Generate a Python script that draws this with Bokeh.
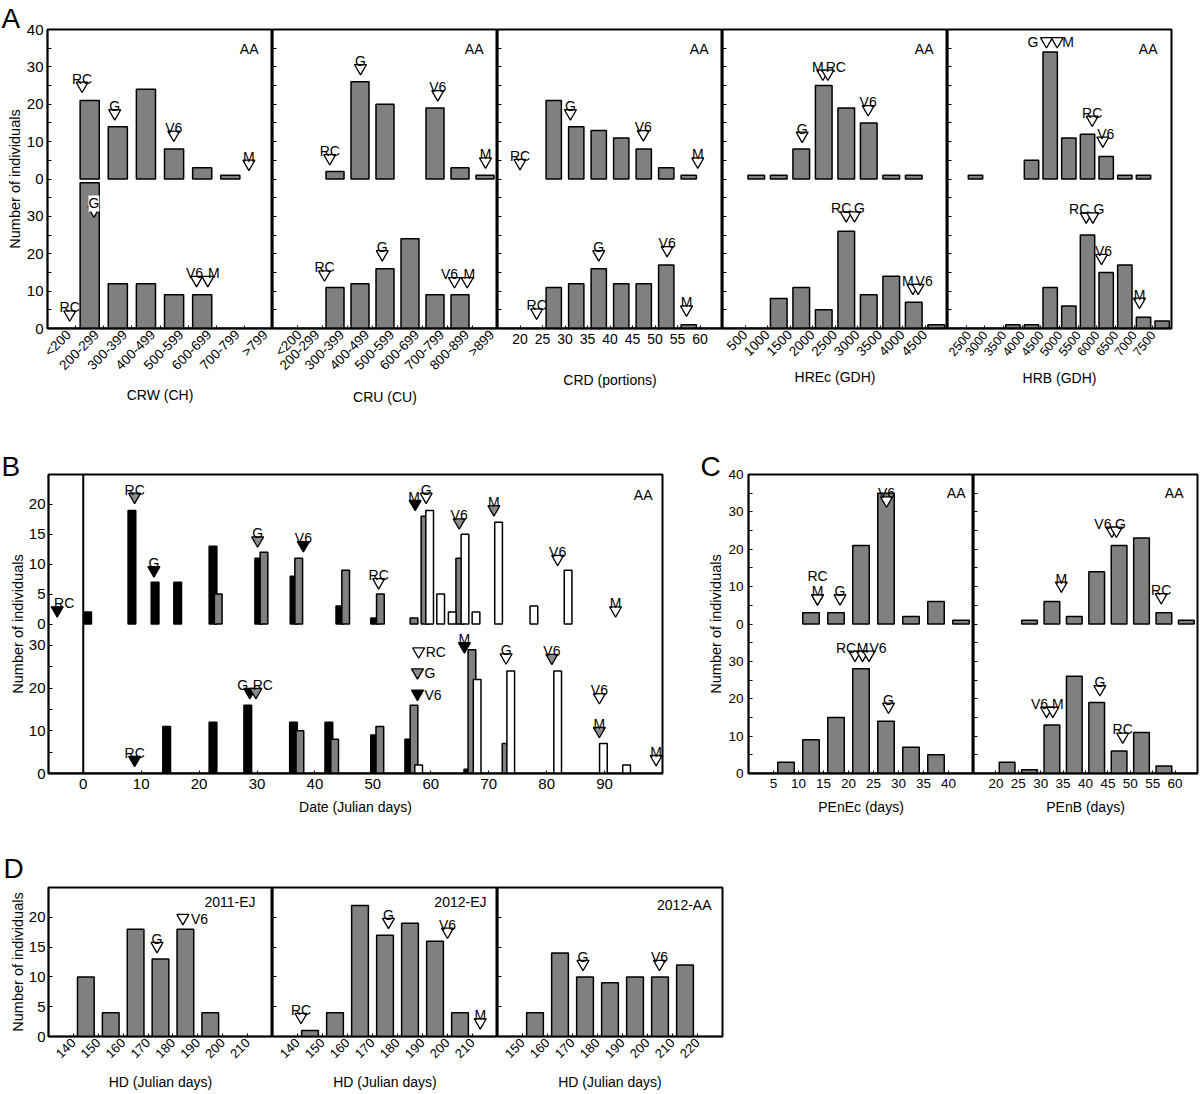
import math
from bokeh.plotting import figure
from bokeh.layouts import row, column
from bokeh.models import Range1d, FixedTicker, ColumnDataSource, Span, Title
from bokeh.core.properties import value
from bokeh.embed import file_html
from bokeh.resources import INLINE

FONT = "Liberation Sans"
BAR_GRAY = "#808080"
MK_FILL = {"k": "#000000", "g": "#8c8c8c", "w": "#ffffff"}

# ======================= DATA =======================
# ---- Panel A (AA = upper row, EJ = lower row) ----
crw_cats = ["<200", "200-299", "300-399", "400-499", "500-599", "600-699", "700-799", ">799"]
crw_aa = [0, 21, 14, 24, 8, 3, 1, 0]
crw_ej = [0, 39, 12, 12, 9, 9, 0, 0]

cru_cats = ["<200", "200-299", "300-399", "400-499", "500-599", "600-699", "700-799", "800-899", ">899"]
cru_aa = [0, 0, 2, 26, 20, 0, 19, 3, 1]
cru_ej = [0, 0, 11, 12, 16, 24, 9, 9, 0]

crd_bins = [22.5, 27.5, 32.5, 37.5, 42.5, 47.5, 52.5, 57.5]
crd_aa = [0, 21, 14, 13, 11, 8, 3, 1]
crd_ej = [0, 11, 12, 16, 12, 12, 17, 1]
crd_ticks = [20, 25, 30, 35, 40, 45, 50, 55, 60]

hrec_bins = [750, 1250, 1750, 2250, 2750, 3250, 3750, 4250, 4750]
hrec_aa = [1, 1, 8, 25, 19, 15, 1, 1, 0]
hrec_ej = [0, 8, 11, 5, 26, 9, 14, 7, 1]
hrec_ticks = [500, 1000, 1500, 2000, 2500, 3000, 3500, 4000, 4500]

hrb_bins = [2750, 3250, 3750, 4250, 4750, 5250, 5750, 6250, 6750, 7250, 7750]
hrb_aa = [1, 0, 0, 5, 34, 11, 12, 6, 1, 1, 0]
hrb_ej = [0, 0, 1, 1, 11, 6, 25, 15, 17, 3, 2]
hrb_ticks = [2500, 3000, 3500, 4000, 4500, 5000, 5500, 6000, 6500, 7000, 7500]

# stage markers (label, x, y)
crw_aa_mk = [("RC", 0.73, 25.0), ("G", 1.89, 17.6), ("V6", 3.99, 11.9), ("M", 6.66, 4.1)]
crw_ej_mk = [("RC", 0.29, 3.8), ("G", 1.15, 31.6), ("V6", 4.80, 13.0), ("M", 5.20, 13.0)]
cru_aa_mk = [("RC", 1.79, 5.6), ("G", 3.02, 29.7), ("V6", 6.11, 22.7), ("M", 8.02, 4.7)]
cru_ej_mk = [("RC", 1.58, 14.5), ("G", 3.89, 19.9), ("V6", 6.78, 12.7), ("M", 7.29, 12.7)]
crd_aa_mk = [("RC", 20.0, 4.3), ("G", 31.2, 17.6), ("V6", 47.4, 12.0), ("M", 59.5, 4.7)]
crd_ej_mk = [("RC", 23.7, 4.3), ("G", 37.5, 19.9), ("V6", 52.7, 21.0), ("M", 57.0, 5.1)]
hrec_aa_mk = [("G", 1770, 11.6), ("M", 2230, 28.2), ("RC", 2341, 28.2), ("V6", 3237, 18.7)]
hrec_ej_mk = [("RC", 2748, 30.3), ("G", 2933, 30.3), ("M", 4230, 10.9), ("V6", 4348, 10.9)]
hrb_aa_mk = [("G", 4652, 36.9), ("M", 4939, 36.9), ("RC", 5876, 15.9), ("V6", 6161, 10.3)]
hrb_ej_mk = [("RC", 5715, 30.0), ("G", 5893, 30.0), ("V6", 6125, 18.9), ("M", 7143, 7.2)]

# ---- Panel B (date histograms; k = black, g = gray, w = white series) ----
b_aa_k_x = [0.75, 8.4, 12.4, 16.3, 22.4, 30.3, 36.4, 44.3, 50.3]
b_aa_k_v = [2, 19, 7, 7, 13, 11, 8, 3, 1]
b_aa_g_x = [23.3, 31.2, 37.2, 45.3, 51.3, 57.1, 59.0, 65.0]
b_aa_g_v = [5, 12, 11, 9, 5, 1, 18, 11]
b_aa_w_x = [59.8, 61.7, 63.7, 65.9, 67.8, 71.7, 77.8, 83.7]
b_aa_w_v = [19, 5, 2, 15, 2, 17, 3, 9]
b_ej_k_x = [14.4, 22.4, 28.4, 36.3, 42.4, 50.3, 56.2, 66.4]
b_ej_k_v = [11, 12, 16, 12, 12, 9, 8, 1]
b_ej_g_x = [37.4, 43.4, 51.2, 57.1, 67.1, 73.0]
b_ej_g_v = [10, 8, 11, 16, 29, 7]
b_ej_w_x = [57.9, 68.0, 73.8, 81.9, 89.8, 93.8]
b_ej_w_v = [2, 22, 24, 24, 7, 2]
b_ticks = [0, 10, 20, 30, 40, 50, 60, 70, 80, 90]

b_aa_mk = [("RC", -4.5, 2.3, "k"), ("RC", 8.87, 21.3, "g"), ("G", 12.2, 9.0, "k"),
           ("G", 30.1, 14.0, "g"), ("V6", 38.0, 13.2, "k"), ("RC", 51.0, 7.0, "w"),
           ("M", 57.3, 20.1, "k"), ("G", 59.2, 21.3, "w"), ("V6", 64.9, 17.0, "g"),
           ("M", 70.9, 19.2, "g"), ("V6", 81.9, 10.9, "w"), ("M", 91.9, 2.3, "w")]
b_ej_mk = [("RC", 8.87, 3.2, "k"), ("G", 28.75, 19.1, "k"), ("RC", 29.8, 19.1, "g"),
           ("RC", 57.9, 28.6, "w"), ("G", 57.7, 23.7, "g"), ("V6", 57.7, 18.7, "k"),
           ("M", 65.8, 29.8, "k"), ("G", 73.0, 27.2, "w"), ("V6", 80.9, 27.1, "g"),
           ("V6", 89.1, 17.9, "w"), ("M", 89.1, 10.0, "g"), ("M", 98.9, 3.4, "w")]

# ---- Panel C ----
penec_bins = [7.5, 12.5, 17.5, 22.5, 27.5, 32.5, 37.5, 42.5]
penec_aa = [0, 3, 3, 21, 35, 2, 6, 1]
penec_ej = [3, 9, 15, 28, 14, 7, 5, 0]
penec_ticks = [5, 10, 15, 20, 25, 30, 35, 40]
penb_bins = [22.5, 27.5, 32.5, 37.5, 42.5, 47.5, 52.5, 57.5, 62.5]
penb_aa = [0, 1, 6, 2, 14, 21, 23, 3, 1]
penb_ej = [3, 1, 13, 26, 19, 6, 11, 2, 0]
penb_ticks = [20, 25, 30, 35, 40, 45, 50, 55, 60]

penec_aa_mk = [("M", 13.8, 6.9), ("RC", 13.8, 6.9), ("G", 18.3, 6.9), ("V6", 27.6, 33.1)]
penec_ej_mk = [("RC", 21.3, 31.8), ("M", 22.8, 31.8), ("V6", 24.1, 31.8), ("G", 28.0, 17.9)]
penb_aa_mk = [("M", 34.6, 10.3), ("V6", 45.9, 25.0), ("G", 46.9, 25.0), ("RC", 56.9, 7.2)]
penb_ej_mk = [("V6", 31.3, 16.8), ("M", 32.7, 16.8), ("G", 43.2, 22.6), ("RC", 48.3, 9.9)]

# ---- Panel D (HD, Julian days) ----
hd_bins_ej = [145, 155, 165, 175, 185, 195, 205, 215]
hd11_ej = [10, 4, 18, 13, 18, 4, 0, 0]
hd12_ej = [1, 4, 22, 17, 19, 16, 4, 0]
hd_bins_aa = [155, 165, 175, 185, 195, 205, 215]
hd12_aa = [4, 14, 10, 9, 10, 10, 12]
hd_ticks_ej = [140, 150, 160, 170, 180, 190, 200, 210]
hd_ticks_aa = [150, 160, 170, 180, 190, 200, 210, 220]

hd11_mk = [("G", 173.6, 15.2), ("V6", 184.0, 19.9)]
hd12ej_mk = [("RC", 141.4, 3.3), ("G", 176.4, 19.25), ("V6", 200.0, 17.6), ("M", 213.1, 2.4)]
hd12aa_mk = [("G", 174.2, 12.2), ("V6", 204.8, 12.2)]

# ================= label placement (style only) =================
# (mode, dx, dy): a = above, b = above with white box, l = left, r = right
ST = {
    "crw_ej": [None, ("b", 0, 0), ("a", -2, 0), ("a", 6, 0)],
    "cru_ej": [None, None, ("a", -5, 0), ("a", 2, 0)],
    "hrec_aa": [None, ("a", -5, 0), ("a", 8, 0), None],
    "hrec_ej": [("a", -5, 0), ("a", 5, 0), ("a", -5, 0), ("a", 6, 0)],
    "hrb_aa": [("l", -1, 0), ("r", -2, 0), None, ("a", 3, 0)],
    "hrb_ej": [("a", -7, 0), ("a", 6, 0), ("a", 2, 0), None],
    "b_aa": [("a", 7, 0), None, None, None, None, None, ("a", -1, 0), None, None, None, None, None],
    "b_ej": [None, ("a", -7, 0), ("a", 7, 0), ("r", 0, 0), ("r", 0, 0), ("r", 0, 0),
             None, None, None, None, None, None],
    "penec_aa": [None, ("a", 0, -15), None, None],
    "penec_ej": [("a", -9, 0), None, ("a", 9, 0), None],
    "penb_aa": [None, ("a", -9, 0), ("a", 4, 0), None],
    "penb_ej": [("a", -7, 0), ("a", 5, 0), None, None],
    "hd11": [None, ("r", 1, 0)],
}
YT = "Number of individuals"


# ======================= HELPERS =======================
def new_fig(w, h, bl, br, bt, bb, xr, yr, aa=None):
    p = figure(width=w, height=h, x_range=Range1d(*xr), y_range=Range1d(*yr),
               output_backend="svg", toolbar_location=None,
               x_axis_location="below", y_axis_location="left",
               min_border_left=bl, min_border_right=br,
               min_border_top=bt, min_border_bottom=bb)
    if aa is not None:
        p.extra_y_ranges = {"aa": Range1d(*aa)}
    p.outline_line_color = "black"
    p.outline_line_width = 2
    p.grid.visible = False
    p.background_fill_color = "white"
    p.border_fill_color = "white"
    return p


def to_main(p, v):
    """map a value of the upper-row ('aa') range onto the main y range"""
    a, m = p.extra_y_ranges["aa"], p.y_range
    return m.start + (v - a.start) * (m.end - m.start) / (a.end - a.start)


def style_y(p, ej_ticks, ej_minor, aa_ticks, aa_minor, show, size="15px", standoff=3,
            title=None, tstandoff=0):
    ticks = list(ej_ticks)
    labels = [str(t) for t in ej_ticks]
    minor = list(ej_minor)
    if aa_ticks:
        ticks += [to_main(p, t) for t in aa_ticks]
        labels += [str(t) for t in aa_ticks]
        minor += [to_main(p, t) for t in aa_minor]
    ax = p.yaxis[0]
    ax.ticker = FixedTicker(ticks=ticks, minor_ticks=minor)
    ax.major_tick_in = 4
    ax.major_tick_out = 0
    ax.minor_tick_in = 4
    ax.minor_tick_out = 0
    ax.axis_line_width = 1.5
    ax.major_label_text_font = FONT
    ax.major_label_text_color = "black"
    ax.major_label_text_font_size = size
    if show:
        ax.major_label_overrides = {t: l for t, l in zip(ticks, labels)}
        ax.major_label_standoff = standoff
    else:
        ax.major_label_overrides = {t: "" for t in ticks}
        ax.major_label_standoff = 0
    if title:
        ax.axis_label = title
        ax.axis_label_text_font = FONT
        ax.axis_label_text_font_style = "normal"
        ax.axis_label_text_font_size = "14.5px"
        ax.axis_label_text_color = "black"
        ax.axis_label_standoff = tstandoff


def style_x(p, ticks, minor, labels, angle, size, standoff, title, tstandoff,
            major_in=3, minor_in=0):
    ax = p.xaxis[0]
    ax.ticker = FixedTicker(ticks=ticks, minor_ticks=minor)
    ax.major_tick_in = major_in
    ax.major_tick_out = 0
    ax.minor_tick_in = minor_in
    ax.minor_tick_out = 0
    ax.axis_line_width = 1.5
    if labels is not None:
        ax.major_label_overrides = {t: l for t, l in zip(ticks, labels)}
    ax.major_label_orientation = angle if angle else "horizontal"
    ax.major_label_text_font = FONT
    ax.major_label_text_font_size = size
    ax.major_label_text_color = "black"
    ax.major_label_standoff = standoff
    ax.axis_label = title
    ax.axis_label_text_font = FONT
    ax.axis_label_text_font_style = "normal"
    ax.axis_label_text_font_size = "14px"
    ax.axis_label_text_color = "black"
    ax.axis_label_standoff = tstandoff


def add_bars(p, xs, vals, width, fill=BAR_GRAY, rn="default"):
    keep = [(x, v) for x, v in zip(xs, vals) if v > 0]
    src = ColumnDataSource(dict(x=[k[0] for k in keep], top=[k[1] for k in keep]))
    p.vbar(x="x", top="top", bottom=0, width=width, source=src, y_range_name=rn,
           fill_color=fill, line_color="black", line_width=1.5)


def add_marks(p, marks, styles=None, rn="default", size=12):
    xs = [m[1] for m in marks]
    ys = [m[2] for m in marks]
    fills = [MK_FILL[m[3]] if len(m) > 3 else "#ffffff" for m in marks]
    p.scatter(x=xs, y=ys, marker="inverted_triangle", size=size, y_range_name=rn,
              fill_color=fills, line_color="black", line_width=1.3)
    groups = {}
    for i, m in enumerate(marks):
        st = styles[i] if styles is not None and styles[i] is not None else ("a", 0, 0)
        mode, dx, dy = st
        if mode in ("a", "b"):
            ox, oy = dx, -7 + dy
        elif mode == "r":
            ox, oy = 7 + dx, 1 + dy
        else:
            ox, oy = -7 + dx, 1 + dy
        g = groups.setdefault(mode, dict(x=[], y=[], t=[], ox=[], oy=[]))
        g["x"].append(m[1]); g["y"].append(m[2]); g["t"].append(m[0])
        g["ox"].append(ox); g["oy"].append(oy)
    for mode, g in groups.items():
        align = {"a": "center", "b": "center", "r": "left", "l": "right"}[mode]
        base = "alphabetic" if mode in ("a", "b") else "middle"
        kw = dict(background_fill_color="white") if mode == "b" else {}
        p.text(x=g["x"], y=g["y"], text=g["t"], x_offset=g["ox"], y_offset=g["oy"],
               y_range_name=rn, text_font=value(FONT), text_font_size="14px",
               text_align=align, text_baseline=base, text_color="black", **kw)


def add_corner(p, txt, dx, dy, y, rn="default"):
    p.text(x=[p.x_range.end], y=[y], text=[txt], x_offset=dx, y_offset=dy,
           y_range_name=rn, text_font=value(FONT), text_font_size="14px",
           text_align="right", text_baseline="middle", text_color="black")


def add_row_corners(p, dx_aa, dy_aa, dx_ej, dy_ej):
    aa = p.extra_y_ranges["aa"]
    add_corner(p, "AA", dx_aa, dy_aa, aa.end, rn="aa")
    add_corner(p, "EJ", dx_ej, dy_ej, to_main(p, aa.start))


def add_letter(p, txt, offset, standoff):
    p.title = Title(text=txt, align="left", offset=offset, standoff=standoff,
                    text_font=FONT, text_font_size="28px", text_font_style="normal",
                    text_color="black")


def midline(p):
    y = to_main(p, p.extra_y_ranges["aa"].start)
    p.add_layout(Span(location=y, dimension="width", line_color="black", line_width=2))


# ======================= PANEL A =======================
A_cols = [
    dict(xr=(-0.5, len(crw_cats) - 0.5), xs=list(range(len(crw_cats))), aa=crw_aa, ej=crw_ej,
         bw=0.68, ticks=[i + 0.25 for i in range(len(crw_cats))], labels=crw_cats,
         minor=[i - 0.5 for i in range(len(crw_cats) + 1)], angle=math.pi / 4, fs="13.5px",
         title="CRW (CH)", ls=4, ts=6, aam=crw_aa_mk, ejm=crw_ej_mk, aas=None, ejs=ST["crw_ej"],
         cat=True),
    dict(xr=(-0.5, len(cru_cats) - 0.5), xs=list(range(len(cru_cats))), aa=cru_aa, ej=cru_ej,
         bw=0.72, ticks=[i + 0.28 for i in range(len(cru_cats))], labels=cru_cats,
         minor=[i - 0.5 for i in range(len(cru_cats) + 1)], angle=math.pi / 4, fs="13.5px",
         title="CRU (CU)", ls=4, ts=8, aam=cru_aa_mk, ejm=cru_ej_mk, aas=None, ejs=ST["cru_ej"],
         cat=True),
    dict(xr=(15, 65), xs=crd_bins, aa=crd_aa, ej=crd_ej, bw=3.4, ticks=crd_ticks, labels=None,
         minor=[], angle=0, fs="14px", title="CRD (portions)", ls=5, ts=25,
         aam=crd_aa_mk, ejm=crd_ej_mk, aas=None, ejs=None, cat=False),
    dict(xr=(0, 5000), xs=hrec_bins, aa=hrec_aa, ej=hrec_ej, bw=370, ticks=hrec_ticks,
         labels=None, minor=[], angle=math.pi / 4, fs="13.5px", title="HREc (GDH)", ls=4, ts=6,
         aam=hrec_aa_mk, ejm=hrec_ej_mk, aas=ST["hrec_aa"], ejs=ST["hrec_ej"], cat=False),
    dict(xr=(2000, 8000), xs=hrb_bins, aa=hrb_aa, ej=hrb_ej, bw=385, ticks=hrb_ticks,
         labels=None, minor=[], angle=0.9, fs="12.5px", title="HRB (GDH)", ls=4, ts=7,
         aam=hrb_aa_mk, ejm=hrb_ej_mk, aas=ST["hrb_aa"], ejs=ST["hrb_ej"], cat=False),
]
A_fw = [225, 225, 225, 225, 224]
A_bl = [47, 0, 0, 0, 0]
A_br = [0, 0, 0, 0, 2]

A_figs = []
for i, c in enumerate(A_cols):
    w = A_bl[i] + A_fw[i] + A_br[i]
    p = new_fig(w, 452, A_bl[i], A_br[i], 29, 124, c["xr"], (0, 80), aa=(-40, 40))
    style_y(p, [0, 10, 20, 30], [5, 15, 25, 35], [0, 10, 20, 30, 40], [5, 15, 25, 35],
            i == 0, "15px", 4, YT if i == 0 else None, 1)
    if c["cat"]:
        style_x(p, c["ticks"], c["minor"], c["labels"], c["angle"], c["fs"], c["ls"],
                c["title"], c["ts"], major_in=0, minor_in=3)
    else:
        style_x(p, c["ticks"], c["minor"], c["labels"], c["angle"], c["fs"], c["ls"],
                c["title"], c["ts"], major_in=3, minor_in=0)
    midline(p)
    add_bars(p, c["xs"], c["aa"], c["bw"], rn="aa")
    add_bars(p, c["xs"], c["ej"], c["bw"])
    add_marks(p, c["aam"], c["aas"], rn="aa")
    add_marks(p, c["ejm"], c["ejs"])
    add_row_corners(p, -14, 19, -14, 19)
    A_figs.append(p)
add_letter(A_figs[0], "A", -46, -8)
secA = row(*A_figs)

# ======================= PANEL B =======================
B = new_fig(664, 393, 48, 2, 22, 71, (-6, 100), (0, 70), aa=(-25, 25))
style_y(B, [0, 10, 20, 30], [5, 15, 25], [0, 5, 10, 15, 20], [], True, "15px", 3, YT, 0)
style_x(B, b_ticks, [], None, 0, "15px", 5, "Date (Julian days)", 7, major_in=3)
B.add_layout(Span(location=0, dimension="height", line_color="black", line_width=2))
midline(B)
add_bars(B, b_aa_k_x, b_aa_k_v, 1.33, "#000000", rn="aa")
add_bars(B, b_aa_g_x, b_aa_g_v, 1.33, BAR_GRAY, rn="aa")
add_bars(B, b_aa_w_x, b_aa_w_v, 1.33, "#ffffff", rn="aa")
add_bars(B, b_ej_k_x, b_ej_k_v, 1.33, "#000000")
add_bars(B, b_ej_g_x, b_ej_g_v, 1.33, BAR_GRAY)
add_bars(B, b_ej_w_x, b_ej_w_v, 1.33, "#ffffff")
add_marks(B, b_aa_mk, ST["b_aa"], rn="aa")
add_marks(B, b_ej_mk, ST["b_ej"])
add_row_corners(B, -10, 20, -10, 19)
add_letter(B, "B", -47, -14)

# ======================= PANEL C =======================
C1 = new_fig(309, 393, 84, 0, 22, 72, (0, 45), (0, 80), aa=(-40, 40))
style_y(C1, [0, 10, 20, 30], [5, 15, 25, 35], [0, 10, 20, 30, 40], [5, 15, 25, 35],
        True, "13.5px", 5, YT, 1)
style_x(C1, penec_ticks, [], None, 0, "13.5px", 5, "PEnEc (days)", 8, major_in=3)
midline(C1)
add_bars(C1, penec_bins, penec_aa, 3.3, rn="aa")
add_bars(C1, penec_bins, penec_ej, 3.3)
add_marks(C1, penec_aa_mk, ST["penec_aa"], rn="aa")
add_marks(C1, penec_ej_mk, ST["penec_ej"])
add_row_corners(C1, -8, 18, -11, 17)
add_letter(C1, "C", -48, -14)

C2 = new_fig(226, 393, 0, 2, 22, 72, (15, 65), (0, 80), aa=(-40, 40))
style_y(C2, [0, 10, 20, 30], [5, 15, 25, 35], [0, 10, 20, 30, 40], [5, 15, 25, 35], False)
style_x(C2, penb_ticks, [], None, 0, "13.5px", 5, "PEnB (days)", 8, major_in=3)
midline(C2)
add_bars(C2, penb_bins, penb_aa, 3.5, rn="aa")
add_bars(C2, penb_bins, penb_ej, 3.5)
add_marks(C2, penb_aa_mk, ST["penb_aa"], rn="aa")
add_marks(C2, penb_ej_mk, ST["penb_ej"])
add_row_corners(C2, -14, 18, -16, 17)

secBC = row(B, C1, C2)

# ======================= PANEL D =======================
D1 = new_fig(272, 248, 48, 0, 42, 57, (130, 220), (0, 25))
style_y(D1, [0, 5, 10, 15, 20], [], [], [], True, "15px", 3, YT, 0)
style_x(D1, hd_ticks_ej, [], None, math.pi / 4, "13px", 4, "HD (Julian days)", 9, major_in=3)
add_bars(D1, hd_bins_ej, hd11_ej, 6.7)
add_marks(D1, hd11_mk, ST["hd11"])
add_corner(D1, "2011-EJ", -17, 14, D1.y_range.end)
add_letter(D1, "D", -45, 8)

D2 = new_fig(225, 248, 0, 0, 42, 57, (130, 220), (0, 25))
style_y(D2, [0, 5, 10, 15, 20], [], [], [], False)
style_x(D2, hd_ticks_ej, [], None, math.pi / 4, "13px", 4, "HD (Julian days)", 9, major_in=3)
add_bars(D2, hd_bins_ej, hd12_ej, 6.7)
add_marks(D2, hd12ej_mk, None)
add_corner(D2, "2012-EJ", -11, 14, D2.y_range.end)

D3 = new_fig(227, 248, 0, 2, 42, 57, (140, 230), (0, 25))
style_y(D3, [0, 5, 10, 15, 20], [], [], [], False)
style_x(D3, hd_ticks_aa, [], None, math.pi / 4, "13px", 4, "HD (Julian days)", 9, major_in=3)
add_bars(D3, hd_bins_aa, hd12_aa, 6.7)
add_marks(D3, hd12aa_mk, None)
add_corner(D3, "2012-AA", -11, 17, D3.y_range.end)

secD = row(D1, D2, D3)

layout = column(secA, secBC, secD)
open("out.html", "w").write(file_html(layout, INLINE, title="Phenology histograms"))
